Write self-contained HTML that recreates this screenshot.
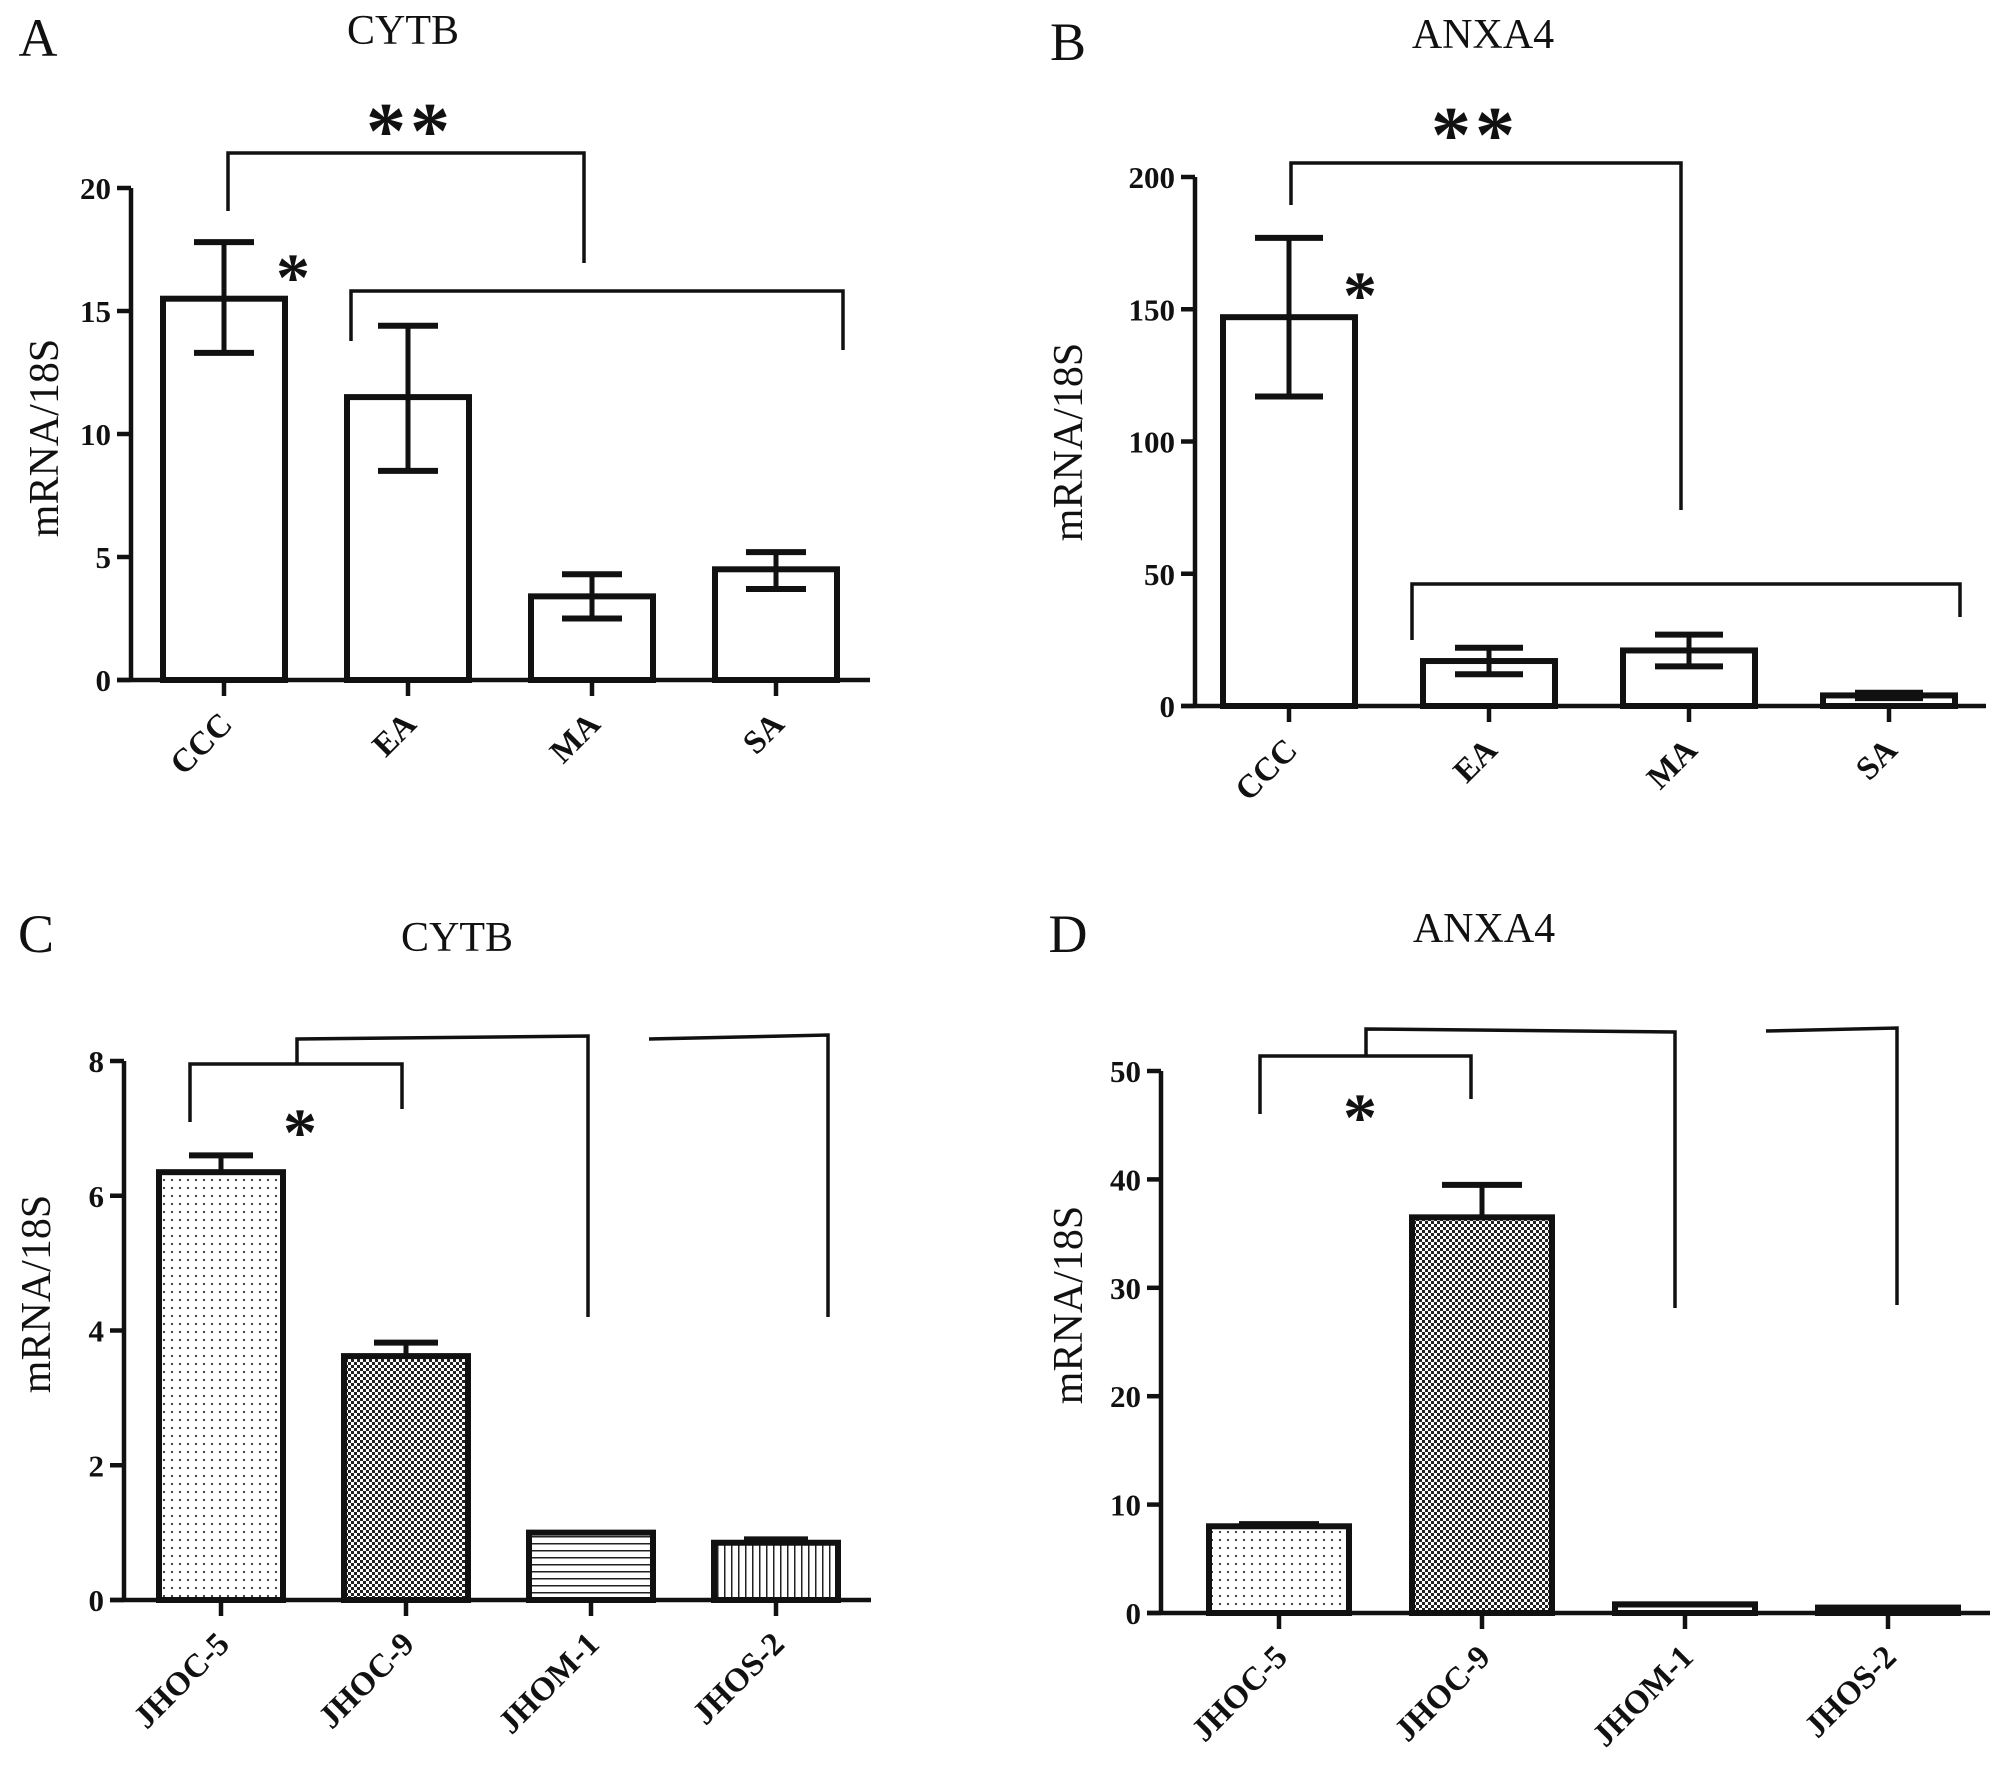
<!DOCTYPE html>
<html><head><meta charset="utf-8"><style>
html,body{margin:0;padding:0;background:#fff;}
svg{display:block;}
text{font-family:"Liberation Serif",serif;fill:#111;}
</style></head><body>
<svg id="fig" width="2008" height="1781" viewBox="0 0 2008 1781" xmlns="http://www.w3.org/2000/svg">
<defs>
<pattern id="pDots" width="8" height="8" patternUnits="userSpaceOnUse"><rect width="8" height="8" fill="#fff"/><circle cx="4" cy="4" r="1.1" fill="#333"/></pattern>
<pattern id="pCheck" width="6" height="6" patternUnits="userSpaceOnUse"><rect width="6" height="6" fill="#fff"/><rect width="3" height="3" fill="#222"/><rect x="3" y="3" width="3" height="3" fill="#222"/></pattern>
<pattern id="pH" width="8" height="7" patternUnits="userSpaceOnUse"><rect width="8" height="7" fill="#fff"/><rect y="3" width="8" height="1.5" fill="#222"/></pattern>
<pattern id="pV" width="7" height="8" patternUnits="userSpaceOnUse"><rect width="7" height="8" fill="#fff"/><rect x="3" width="1.5" height="8" fill="#222"/></pattern>
</defs>
</svg>
<script>
// Panel A data
const catsA = ["CCC","EA","MA","SA"];
const valsA = [15.5, 11.5, 3.4, 4.5];
const errLoA = [13.3, 8.5, 2.5, 3.7];
const errHiA = [17.8, 14.4, 4.3, 5.2];
const ticksA = [0,5,10,15,20];
// Panel B data
const catsB = ["CCC","EA","MA","SA"];
const valsB = [147, 17, 21, 4];
const errLoB = [117, 12, 15, 3];
const errHiB = [177, 22, 27, 5];
const ticksB = [0,50,100,150,200];
// Panel C data
const catsC = ["JHOC-5","JHOC-9","JHOM-1","JHOS-2"];
const valsC = [6.35, 3.62, 1.0, 0.85];
const errHiC = [6.6, 3.82, 1.0, 0.9];
const ticksC = [0,2,4,6,8];
// Panel D data
const catsD = ["JHOC-5","JHOC-9","JHOM-1","JHOS-2"];
const valsD = [8.0, 36.5, 0.8, 0.5];
const errHiD = [8.2, 39.5, 0.8, 0.5];
const ticksD = [0,10,20,30,40,50];

const NS="http://www.w3.org/2000/svg";
const svg=document.getElementById('fig');
function mk(tag,attrs,parent){const e=document.createElementNS(NS,tag);for(const k in attrs)e.setAttribute(k,attrs[k]);(parent||svg).appendChild(e);return e;}
function txt(s,attrs,parent){const e=mk('text',attrs,parent);e.textContent=s;return e;}

function panel(cfg){
  const g=mk('g',{});
  
  
  const y=v=>cfg.y0-(v-0)/(cfg.max)*(cfg.y0-cfg.yTop);
  const ya=mk('line',{x1:cfg.ax,y1:cfg.yTop,x2:cfg.ax,y2:cfg.y0,stroke:'#111','stroke-width':4.5},g);
  
  const xa=mk('line',{x1:cfg.ax-14,y1:cfg.y0,x2:cfg.xEnd,y2:cfg.y0,stroke:'#111','stroke-width':4.5},g);
  
  cfg.ticks.forEach(t=>{
    mk('line',{x1:cfg.ax-14,y1:y(t),x2:cfg.ax,y2:y(t),stroke:'#111','stroke-width':4.5},g);
    const tl=txt(String(t),{x:cfg.ax-20,y:y(t)+11,'text-anchor':'end','font-size':31,'font-weight':'bold'},g);
    
  });
  cfg.cats.forEach((c,i)=>{
    const cx=cfg.bx0+i*cfg.step;
    const w=cfg.bw;
    const v=cfg.vals[i];
    const r=mk('rect',{x:cx-w/2,y:y(v),width:w,height:cfg.y0-y(v),fill:cfg.fills?cfg.fills[i]:'#fff',stroke:'#111','stroke-width':6},g);
    
    const hi=cfg.hi[i];const lo=cfg.lo?cfg.lo[i]:v;
    if(hi>v+0.001||lo<v-0.001){
      const eg=mk('g',{},g);
      
      mk('line',{x1:cx,y1:y(hi),x2:cx,y2:y(lo),stroke:'#111','stroke-width':5},eg);
      mk('line',{x1:cx-cfg.cap,y1:y(hi),x2:cx+cfg.cap,y2:y(hi),stroke:'#111','stroke-width':6},eg);
      if(cfg.lo) mk('line',{x1:cx-cfg.cap,y1:y(lo),x2:cx+cfg.cap,y2:y(lo),stroke:'#111','stroke-width':6},eg);
    }
    mk('line',{x1:cx,y1:cfg.y0,x2:cx,y2:cfg.y0+16,stroke:'#111','stroke-width':4.5},g);
    const lx=cx+10,ly=cfg.y0+46;
    const l=txt(c,{x:lx,y:ly,'text-anchor':'end','font-size':33,'font-weight':'bold',transform:`rotate(-45 ${lx} ${ly})`},g);
    
  });
  const tt=txt(cfg.title,{x:cfg.tx,y:cfg.ty,'text-anchor':'middle','font-size':42},g);
  
  const pl=txt(cfg.id.toUpperCase(),{x:cfg.lx,y:cfg.ly,'text-anchor':'middle','font-size':54},g);
  
  const yl=txt('mRNA/18S',{x:cfg.ylx,y:cfg.yly,'text-anchor':'middle','font-size':42,transform:`rotate(-90 ${cfg.ylx} ${cfg.yly})`},g);
  
  (cfg.paths||[]).forEach(p=>{
    const pe=mk('polyline',{points:p,fill:'none',stroke:'#111','stroke-width':3.5},g);
    
  });
  (cfg.stars||[]).forEach(s=>{
    const se=txt(s[2],{x:s[0],y:s[1],'text-anchor':'middle','font-size':s[3],'font-family':'DejaVu Sans','font-weight':'bold','letter-spacing':'4'},g);
    
  });
}

panel({id:'a',title:'CYTB',cats:catsA,vals:valsA,lo:errLoA,hi:errHiA,ticks:ticksA,max:20,
  ax:131,yTop:188,y0:680,xEnd:870,bx0:224,step:184,bw:122,cap:30,
  tx:403,ty:44,lx:38,ly:56,ylx:58,yly:438,
  paths:['228,211 228,153 584,153 584,263','351,341 351,291 843,291 843,350'],
  stars:[[410,158,'**',80],[295,300,'*',68]]});
panel({id:'b',title:'ANXA4',cats:catsB,vals:valsB,lo:errLoB,hi:errHiB,ticks:ticksB,max:200,
  ax:1195,yTop:177,y0:706,xEnd:1986,bx0:1289,step:200,bw:132,cap:34,
  tx:1483,ty:48,lx:1068,ly:60,ylx:1082,yly:442,
  paths:['1291,205 1291,163 1681,163 1681,510','1412,640 1412,584 1960,584 1960,617'],
  stars:[[1475,162,'**',80],[1362,318,'*',68]]});
panel({id:'c',title:'CYTB',cats:catsC,vals:valsC,hi:errHiC,ticks:ticksC,max:8,
  ax:124,yTop:1061,y0:1600,xEnd:871,bx0:221,step:185,bw:124,cap:32,
  fills:['url(#pDots)','url(#pCheck)','url(#pH)','url(#pV)'],
  tx:457,ty:951,lx:36,ly:952,ylx:50,yly:1294,
  paths:['190,1122 190,1064 402,1064 402,1109','297,1064 297,1039 588,1036 588,1317','649,1039 828,1035 828,1317'],
  stars:[[302,1155,'*',68]]});
panel({id:'d',title:'ANXA4',cats:catsD,vals:valsD,hi:errHiD,ticks:ticksD,max:50,
  ax:1161,yTop:1071,y0:1613,xEnd:1990,bx0:1279,step:203,bw:140,cap:40,
  fills:['url(#pDots)','url(#pCheck)','url(#pH)','url(#pV)'],
  tx:1484,ty:942,lx:1068,ly:952,ylx:1082,yly:1305,
  paths:['1260,1114 1260,1056 1471,1056 1471,1099','1366,1056 1366,1029 1675,1032 1675,1308','1766,1031 1897,1028 1897,1305'],
  stars:[[1362,1140,'*',68]]});
</script>
</body></html>
